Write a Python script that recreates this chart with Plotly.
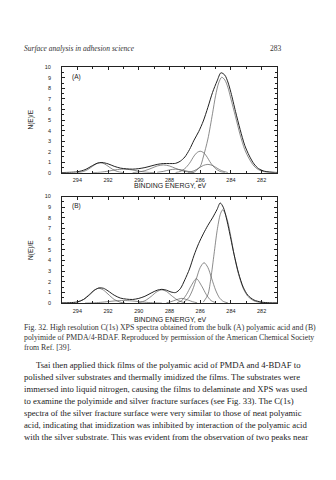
import plotly.graph_objects as go

# ---------------- data ----------------
# Panel A: bulk polyamic acid
a_env_x = [295, 294.5, 294, 293.5, 293.0, 292.7, 292.4, 292.0, 291.6, 291.2, 290.8, 290.4, 290.0, 289.6, 289.2,
           288.8, 288.4, 288.0, 287.6, 287.3, 287.0, 286.7, 286.4, 286.1, 285.8, 285.5, 285.2, 284.9, 284.65,
           284.4, 284.2, 284.0, 283.7, 283.4, 283.1, 282.8, 282.5, 282.2, 281.8, 281.2, 281.0]
a_env_y = [0.03, 0.05, 0.1, 0.3, 0.7, 0.92, 0.98, 0.85, 0.62, 0.45, 0.38, 0.35, 0.4, 0.5, 0.65,
           0.8, 0.88, 0.88, 0.9, 1.1, 1.5, 2.2, 3.1, 3.9, 4.9, 6.2, 7.6, 8.7, 9.47,
           9.25, 8.6, 7.6, 5.8, 4.1, 2.6, 1.6, 0.85, 0.4, 0.15, 0.05, 0.04]

a_c1_x = [294.0, 293.6, 293.3, 293.0, 292.75, 292.5, 292.25, 292.0, 291.7, 291.4, 291.0]
a_c1_y = [0.02, 0.13, 0.33, 0.63, 0.86, 0.95, 0.86, 0.63, 0.33, 0.13, 0.02]
a_c2_x = [293.0, 292.5, 292.0, 291.5, 291.0, 290.5, 290.0, 289.5, 289.0]
a_c2_y = [0.02, 0.06, 0.16, 0.29, 0.35, 0.29, 0.16, 0.06, 0.02]
a_c3_x = [290.4, 290.0, 289.6, 289.2, 288.8, 288.4, 288.0, 287.6, 287.2, 286.8, 286.4]
a_c3_y = [0.02, 0.08, 0.21, 0.42, 0.65, 0.75, 0.65, 0.42, 0.21, 0.08, 0.02]
a_c4_x = [288.8, 288.4, 288.0, 287.6, 287.2, 286.8, 286.4]
a_c4_y = [0.05, 0.14, 0.28, 0.35, 0.28, 0.14, 0.05]
a_c5_x = [287.6, 287.3, 287.0, 286.7, 286.4, 286.2, 286.0, 285.8, 285.6, 285.3, 285.0, 284.7, 284.4]
a_c5_y = [0.03, 0.13, 0.4, 0.9, 1.6, 1.93, 2.05, 1.93, 1.6, 0.9, 0.4, 0.13, 0.03]
a_c6_x = [286.8, 286.4, 286.1, 285.8, 285.5, 285.2, 284.9, 284.6, 284.2]
a_c6_y = [0.03, 0.2, 0.44, 0.7, 0.8, 0.7, 0.44, 0.2, 0.03]
a_c7_x = [286.4, 286.0, 285.8, 285.5, 285.2, 285.0, 284.8, 284.6, 284.4, 284.2, 284.0, 283.7, 283.4, 283.1,
          282.8, 282.5, 282.2, 281.8, 281.2]
a_c7_y = [0.05, 0.6, 1.5, 3.2, 5.6, 7.3, 8.5, 9.05, 8.8, 8.1, 7.0, 5.3, 3.6, 2.2,
          1.3, 0.65, 0.3, 0.1, 0.02]

# Panel B: polyimide
b_env_x = [295, 294.5, 294, 293.6, 293.2, 292.9, 292.6, 292.3, 292.0, 291.6, 291.2, 290.8, 290.4, 290.0,
           289.6, 289.2, 288.8, 288.5, 288.2, 287.9, 287.6, 287.3, 287.0, 286.7, 286.4, 286.1, 285.8,
           285.5, 285.2, 284.9, 284.7, 284.5, 284.3, 284.1, 283.8, 283.5, 283.2, 282.9, 282.5, 282.0,
           281.5, 281.0]
b_env_y = [0.03, 0.05, 0.12, 0.35, 0.8, 1.2, 1.43, 1.4, 1.15, 0.75, 0.48, 0.38, 0.35, 0.45,
           0.65, 0.95, 1.22, 1.3, 1.22, 1.05, 1.0, 1.35, 2.2, 3.2, 4.5, 5.6, 6.5,
           7.3, 8.0, 8.8, 9.4, 9.0, 8.0, 6.7, 4.6, 2.8, 1.5, 0.75, 0.3, 0.1,
           0.04, 0.03]

b_c1_x = [294.0, 293.6, 293.2, 292.9, 292.6, 292.3, 292.0, 291.6, 291.2, 290.9]
b_c1_y = [0.09, 0.35, 0.85, 1.23, 1.4, 1.23, 0.85, 0.35, 0.09, 0.02]
b_c2_x = [293.5, 293.0, 292.5, 292.0, 291.5, 291.0, 290.5, 290.0, 289.5, 289.0, 288.5]
b_c2_y = [0.01, 0.03, 0.08, 0.15, 0.22, 0.25, 0.22, 0.15, 0.08, 0.03, 0.01]
b_c3_x = [290.0, 289.6, 289.2, 288.8, 288.5, 288.2, 287.8, 287.4, 287.0]
b_c3_y = [0.04, 0.23, 0.63, 1.1, 1.25, 1.1, 0.63, 0.23, 0.04]
b_c4_x = [288.2, 287.9, 287.6, 287.2, 286.8, 286.5, 286.2]
b_c4_y = [0.04, 0.14, 0.3, 0.45, 0.3, 0.14, 0.04]
b_c5_x = [287.5, 287.2, 286.9, 286.6, 286.25, 285.9, 285.6, 285.3, 285.0]
b_c5_y = [0.05, 0.25, 0.8, 1.6, 2.3, 1.6, 0.8, 0.25, 0.05]
b_c6_x = [287.0, 286.75, 286.5, 286.25, 286.0, 285.75, 285.5, 285.25, 285.0, 284.75, 284.5, 284.2]
b_c6_y = [0.17, 0.51, 1.24, 2.3, 3.35, 3.8, 3.35, 2.3, 1.24, 0.51, 0.17, 0.03]
b_c7_x = [285.8, 285.5, 285.3, 285.1, 284.9, 284.7, 284.55, 284.4, 284.2, 284.0, 283.8, 283.5, 283.2,
          282.9, 282.5, 282.0, 281.5]
b_c7_y = [0.1, 0.8, 2.4, 4.6, 6.8, 8.3, 8.75, 8.5, 7.6, 6.2, 4.6, 2.7, 1.4,
          0.65, 0.22, 0.05, 0.01]

x_ticks = [294, 292, 290, 288, 286, 284, 282]
y_ticks = [0, 1, 2, 3, 4, 5, 6, 7, 8, 9, 10]
panel_labels = ["(A)", "(B)"]
x_title = "BINDING ENERGY, eV"
y_title = "N(E)/E"

header = "Surface analysis in adhesion science"
page_no = "283"
caption = ["Fig. 32. High resolution C(1s) XPS spectra obtained from the bulk (A) polyamic acid and (B)",
           "polyimide of PMDA/4-BDAF. Reproduced by permission of the American Chemical Society",
           "from Ref. [39]."]
body = ["Tsai then applied thick films of the polyamic acid of PMDA and 4-BDAF to",
        "polished silver substrates and thermally imidized the films. The substrates were",
        "immersed into liquid nitrogen, causing the films to delaminate and XPS was used",
        "to examine the polyimide and silver fracture surfaces (see Fig. 33). The C(1s)",
        "spectra of the silver fracture surface were very similar to those of neat polyamic",
        "acid, indicating that imidization was inhibited by interaction of the polyamic acid",
        "with the silver substrate. This was evident from the observation of two peaks near"]

# ---------------- figure ----------------
W, H = 336, 480
def px(x): return x / W
def py(y): return 1 - y / H

fig = go.Figure()
comp_col = "#5a5a5a"
env_col = "#222222"

def add(xs, ys, ax, env=False):
    fig.add_trace(go.Scatter(x=xs, y=ys, mode="lines", xaxis="x" + ax, yaxis="y" + ax,
                             line=dict(color=env_col if env else comp_col, width=1.0 if env else 0.7,
                                       shape="spline", smoothing=0.8),
                             hoverinfo="skip", showlegend=False))

for xs, ys in [(a_c1_x, a_c1_y), (a_c2_x, a_c2_y), (a_c3_x, a_c3_y), (a_c4_x, a_c4_y),
               (a_c5_x, a_c5_y), (a_c6_x, a_c6_y), (a_c7_x, a_c7_y)]:
    add(xs, ys, "")
add(a_env_x, a_env_y, "", env=True)
for xs, ys in [(b_c1_x, b_c1_y), (b_c2_x, b_c2_y), (b_c3_x, b_c3_y), (b_c4_x, b_c4_y),
               (b_c5_x, b_c5_y), (b_c6_x, b_c6_y), (b_c7_x, b_c7_y)]:
    add(xs, ys, "2")
add(b_env_x, b_env_y, "2", env=True)

tickfont = dict(family="Liberation Sans", size=5.5, color="#222")
def xaxis(dom_anchor):
    return dict(domain=[px(62), px(277)], range=[295, 281], anchor=dom_anchor,
                tickvals=x_ticks, ticktext=[str(v) for v in x_ticks], tickfont=tickfont,
                ticks="inside", ticklen=3, tickwidth=0.7, tickcolor="#222",
                minor=dict(dtick=1, tick0=281, ticks="inside", ticklen=2, tickcolor="#222", tickwidth=0.6),
                showline=True, linecolor="#222", linewidth=0.9, mirror="allticks",
                showgrid=False, zeroline=False, ticklabelstandoff=2)

def yaxis(dom, anchor):
    return dict(domain=dom, range=[0, 10], anchor=anchor,
                tickvals=y_ticks, ticktext=[str(v) for v in y_ticks], tickfont=tickfont,
                ticks="inside", ticklen=3, tickwidth=0.7, tickcolor="#222",
                minor=dict(dtick=0.5, ticks="inside", ticklen=2, tickcolor="#222", tickwidth=0.6),
                showline=True, linecolor="#222", linewidth=0.9, mirror="allticks",
                showgrid=False, zeroline=False, ticklabelstandoff=9)

fig.update_layout(
    width=W, height=H, margin=dict(l=0, r=0, t=0, b=0),
    paper_bgcolor="white", plot_bgcolor="white",
    xaxis=xaxis("y"), yaxis=yaxis([py(172), py(65)], "x"),
    xaxis2=xaxis("y2"), yaxis2=yaxis([py(304), py(196)], "x2"),
)

ann = []
serif = "Liberation Serif"
sans = "Liberation Sans"
ann.append(dict(x=px(22), y=py(46), text="<i>" + header + "</i>", font=dict(family=serif, size=7.5, color="#333"),
                xanchor="left", yanchor="middle"))
ann.append(dict(x=px(284), y=py(46), text=page_no, font=dict(family=serif, size=7.5, color="#333"),
                xanchor="right", yanchor="middle"))
# panel labels and axis titles
for lab, ly, xt_y, yt_y in [(panel_labels[0], 75, 185, 118), (panel_labels[1], 206, 320, 250)]:
    ann.append(dict(x=px(70), y=py(ly), text=lab, font=dict(family=sans, size=6.5, color="#222"),
                    xanchor="left", yanchor="middle"))
    ann.append(dict(x=px(170), y=py(xt_y), text=x_title, font=dict(family=sans, size=7, color="#222"),
                    xanchor="center", yanchor="middle"))
    ann.append(dict(x=px(31), y=py(yt_y), text=y_title, font=dict(family=sans, size=6.5, color="#222"),
                    textangle=-90, xanchor="center", yanchor="middle"))
for i, line in enumerate(caption):
    ann.append(dict(x=px(22), y=py(329 + i * 10), text=line, font=dict(family=serif, size=7.8, color="#333"),
                    xanchor="left", yanchor="middle"))
for i, line in enumerate(body):
    ann.append(dict(x=px(34 if i == 0 else 22), y=py(367 + i * 12), text=line,
                    font=dict(family=serif, size=8.7, color="#222"), xanchor="left", yanchor="middle"))
for a in ann:
    a.update(xref="paper", yref="paper", showarrow=False)
fig.update_layout(annotations=ann)

fig.write_html("out.html")
